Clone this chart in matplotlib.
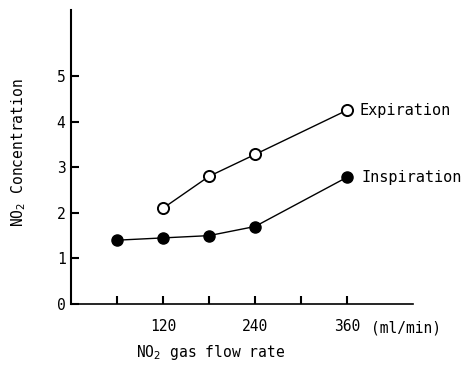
import matplotlib.pyplot as plt

plt.rcParams['font.family'] = ['DejaVu Sans Mono']

# NO2 flow rate (ml/min) and measured concentrations
flow_insp = [60, 120, 180, 240, 360]
conc_insp = [1.4, 1.45, 1.5, 1.7, 2.78]
flow_exp = [120, 180, 240, 360]
conc_exp = [2.1, 2.8, 3.28, 4.25]

x_ticks = [60, 120, 180, 240, 300, 360]
x_labels = ['', '120', '', '240', '', '360']
y_ticks = [0, 1, 2, 3, 4, 5]

fig = plt.figure(figsize=(4.62, 3.77), dpi=100)
ax = fig.add_axes([0.1537, 0.1936, 0.740, 0.780])

ax.plot(flow_exp, conc_exp, color='black', lw=1.0, marker='o', ms=8,
        mfc='white', mec='black', mew=1.4)
ax.plot(flow_insp, conc_insp, color='black', lw=1.0, marker='o', ms=8,
        mfc='black', mec='black')

ax.text(377, conc_exp[-1], 'Expiration', fontsize=11, va='center')
ax.text(379, conc_insp[-1], 'Inspiration', fontsize=11, va='center')

ax.set_xlim(0, 446)
ax.set_ylim(0, 6.45)
ax.set_xticks(x_ticks)
ax.set_xticklabels(x_labels)
ax.set_yticks(y_ticks)

ax.tick_params(axis='x', direction='in', length=6, width=1.5, labelsize=10.5, pad=11)
ax.tick_params(axis='y', direction='in', length=6, width=1.5, labelsize=10.5, pad=4)

for side in ['top', 'right']:
    ax.spines[side].set_visible(False)
ax.spines['left'].set_linewidth(1.5)
ax.spines['bottom'].set_linewidth(1.2)

ax.text(391, -0.52, '(ml/min)', fontsize=10.5, va='center')
fig.text(0.456, 0.066, 'NO$_2$ gas flow rate', fontsize=10.5, ha='center', va='center')
fig.text(0.04, 0.594, 'NO$_2$ Concentration', fontsize=10.5, ha='center', va='center',
         rotation=90)

fig.savefig('out.png', dpi=100)
